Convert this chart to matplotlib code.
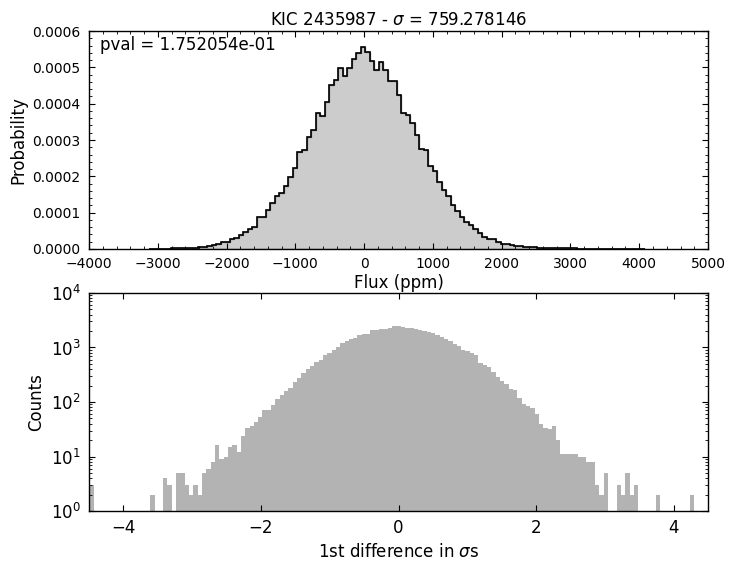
import numpy as np
import matplotlib
matplotlib.use("Agg")
import matplotlib.pyplot as plt
from matplotlib.ticker import MultipleLocator, FormatStrFormatter

# top panel: normalised flux histogram (values in units of 1e-4 per ppm)
flux_bin_width = 65.6
flux_first_edge = 15 - 48 * flux_bin_width
flux_density = [
    0.003, 0.005, 0.008, 0.01, 0.012, 0.015, 0.02, 0.025, 0.03, 0.035, 0.04, 0.05,
    0.06, 0.08, 0.10, 0.14, 0.19, 0.20, 0.27, 0.31, 0.38, 0.48, 0.55, 0.61,
    0.87, 0.88, 1.07, 1.27, 1.47, 1.55, 1.74, 1.98, 2.24, 2.68, 2.73, 3.09,
    3.28, 3.73, 3.67, 4.05, 4.51, 4.65, 4.98, 4.76, 4.99, 5.22, 5.39, 5.57,
    5.41, 5.18, 4.93, 5.16, 4.93, 4.62, 4.62, 4.24, 3.75, 3.70, 3.46, 3.14,
    2.75, 2.72, 2.28, 2.15, 1.85, 1.62, 1.47, 1.21, 1.05, 0.89, 0.75, 0.66,
    0.54, 0.43, 0.34, 0.28, 0.27, 0.20, 0.15, 0.13, 0.11, 0.09, 0.07, 0.06,
    0.05, 0.045, 0.04, 0.035, 0.03, 0.028, 0.025, 0.022, 0.02, 0.018, 0.015, 0.013,
    0.012, 0.01, 0.009, 0.008, 0.007, 0.006, 0.005, 0.005, 0.004, 0.004, 0.003, 0.003,
    0.002, 0.002,
]

# bottom panel: counts of 1st differences
diff_range = (-4.49, 4.49)
diff_counts = [
    3, 0, 0, 0, 1, 1, 0, 0, 1, 1,
    0, 1, 0, 1, 2, 1, 1, 4, 3, 1,
    5, 5, 3, 2, 3, 2, 5, 6, 8, 16,
    9, 10, 15, 16, 12, 24, 33, 36, 43, 52,
    70, 72, 89, 112, 133, 159, 183, 230, 279, 340,
    409, 464, 534, 582, 718, 804, 913, 1021, 1192, 1315,
    1431, 1514, 1694, 1744, 1794, 2066, 2125, 2185, 2217, 2280,
    2445, 2445, 2377, 2314, 2314, 2217, 2125, 2004, 1915, 1831,
    1699, 1588, 1454, 1328, 1180, 1062, 913, 862, 804, 718,
    527, 483, 436, 355, 283, 246, 211, 176, 163, 119,
    93, 86, 78, 61, 39, 33, 32, 36, 20, 11,
    11, 11, 11, 10, 10, 8, 8, 3, 2, 5,
    1, 0, 3, 2, 5, 2, 3, 0, 0, 1,
    0, 2, 1, 0, 0, 0, 1, 1, 0, 2,
    1, 1, 1,
]

kic = "2435987"
sigma = 759.278146
pval = 1.752054e-01

plt.rcParams.update({
    "xtick.direction": "in", "ytick.direction": "in",
    "xtick.top": True, "ytick.right": True,
    "xtick.major.size": 4, "ytick.major.size": 4,
    "xtick.minor.size": 2, "ytick.minor.size": 2,
    "xtick.major.pad": 6, "ytick.major.pad": 6,
    "axes.linewidth": 1.0,
    "font.size": 12,
})

fig = plt.figure(figsize=(7.34, 5.69), dpi=100)
ax1 = fig.add_axes([0.1213, 0.5624, 0.8433, 0.3831])
ax2 = fig.add_axes([0.1213, 0.1019, 0.8433, 0.3832])

dens = np.array(flux_density) * 1e-4
edges = flux_first_edge + flux_bin_width * np.arange(len(dens) + 1)
centers = 0.5 * (edges[:-1] + edges[1:])
ax1.hist(centers, bins=edges, weights=dens, histtype="stepfilled", color="0.8",
         edgecolor="0.55", linewidth=1.0)
ax1.hist(centers, bins=edges, weights=dens, histtype="step", color="k", linewidth=1.2)
ax1.set_xlim(-4000, 5000)
ax1.set_ylim(0, 0.0006)
ax1.yaxis.set_major_locator(MultipleLocator(0.0001))
ax1.yaxis.set_minor_locator(MultipleLocator(0.00002))
ax1.yaxis.set_major_formatter(FormatStrFormatter("%.4f"))
ax1.xaxis.set_major_locator(MultipleLocator(1000))
ax1.xaxis.set_minor_locator(MultipleLocator(200))
ax1.tick_params(labelsize=10)
ax1.set_xlabel("Flux (ppm)", labelpad=2)
ax1.set_ylabel("Probability")
ax1.set_title("KIC %s - $\\sigma$ = %f" % (kic, sigma), fontsize=12, pad=4)
ax1.text(0.017, 0.975, "pval = %e" % pval, transform=ax1.transAxes,
         ha="left", va="top", fontsize=12)

counts = np.array(diff_counts)
d_edges = np.linspace(diff_range[0], diff_range[1], len(counts) + 1)
d_centers = 0.5 * (d_edges[:-1] + d_edges[1:])
ax2.hist(d_centers, bins=d_edges, weights=counts, histtype="stepfilled",
         color="0.7", linewidth=0, log=True)
ax2.set_xlim(-4.5, 4.5)
ax2.set_ylim(1, 1e4)
ax2.xaxis.set_major_locator(MultipleLocator(2))
ax2.set_xlabel("1st difference in $\\sigma$s")
ax2.set_ylabel("Counts")

fig.savefig("out.png", dpi=100)
